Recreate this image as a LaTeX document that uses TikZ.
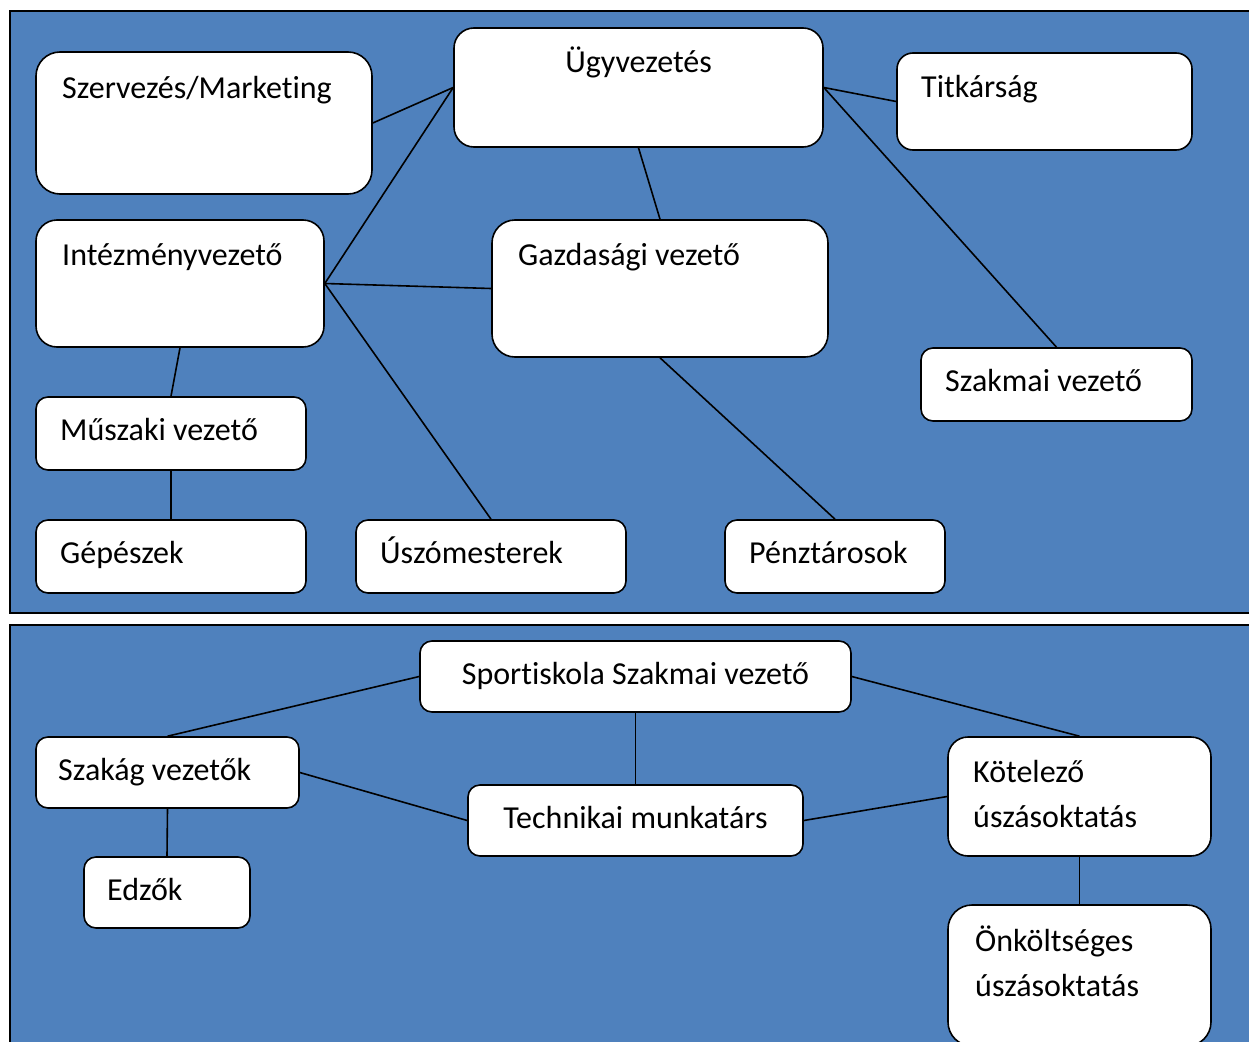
\documentclass[tikz,border=0pt]{standalone}
\usepackage{fontspec}
\setmainfont{Carlito}[Ligatures={NoCommon,NoContextual},RawFeature={-liga;-clig;-calt;-dlig}]
\definecolor{panelblue}{HTML}{4F81BD}
\tikzset{
  panel/.style={fill=panelblue,draw=black,line width=2.5pt},
  box/.style={draw=black,fill=white,line width=1.6pt,inner sep=0pt,rectangle},
  lbl/.style={inner sep=0pt,anchor=base west,font=\fontsize{32}{40}\selectfont,text=black},
  clbl/.style={inner sep=0pt,anchor=base,font=\fontsize{32}{40}\selectfont,text=black},
  conn/.style={draw=black,line width=1.6pt}
}
% \bx{name}{x1}{y1}{x2}{y2}{radius}
\newcommand\bx[6]{\node[box,rounded corners=#6pt,minimum width={(#4-#2)*1pt},minimum height={(#5-#3)*1pt}] (#1) at ({(#2+#4)/2},{(#3+#5)/2}) {};}
\begin{document}
\begin{tikzpicture}[x=1pt,y=-1pt]
\useasboundingbox (0,0) rectangle (1249,1041);
\clip (0,0) rectangle (1249,1041);
\path[panel] (10,11) rectangle (1262,613);
\path[panel] (10,625) rectangle (1262,1070);
% top boxes
\bx{szerv}{36}{52}{372}{194}{24}
\bx{ugy}{454}{28}{823}{147}{20}
\bx{titk}{897}{53}{1192}{150}{16}
\bx{intez}{36}{220}{324}{347}{21}
\bx{gazd}{492}{220}{828}{357}{23}
\bx{szakm}{921}{348}{1192}{421}{12}
\bx{musz}{36}{397}{306}{470}{12}
\bx{gep}{36}{520}{306}{593}{12}
\bx{uszo}{356}{520}{626}{593}{12}
\bx{penz}{725}{520}{945}{593}{12}
% bottom boxes
\bx{sport}{420}{641}{851}{712}{12}
\bx{szakag}{36}{737}{299}{808}{12}
\bx{tech}{468}{785}{803}{856}{12}
\bx{kotel}{948}{737}{1211}{856}{20}
\bx{edzo}{84}{857}{250}{928}{12}
\bx{onk}{948}{905}{1211}{1046}{24}
% labels
\node[lbl] (t-szerv) at (62,98) {Szervezés/Market\kern0pt ing};
\node[clbl] (t-ugy) at (638.5,73) {Ügyvezetés};
\node[lbl] (t-titk) at (921,97) {Titkárság};
\node[lbl] (t-intez) at (62,265) {Intézményvezető};
\node[lbl] (t-gazd) at (518,265) {Gazdasági vezető};
\node[lbl] (t-szakm) at (945,391) {Szakmai vezető};
\node[lbl] (t-musz) at (60,440) {Műszaki vezető};
\node[lbl] (t-gep) at (60,563) {Gépészek};
\node[lbl] (t-uszo) at (380,563) {Úszómesterek};
\node[lbl] (t-penz) at (749,563) {Pénztárosok};
\node[clbl] (t-sport) at (635.5,684) {Sport\kern0pt iskola Szakmai vezető};
\node[lbl] (t-szakag) at (58,780) {Szakág vezetők};
\node[clbl] (t-tech) at (635.5,828) {Technikai munkatárs};
\node[lbl] (t-kotel1) at (973,782) {Kötelező};
\node[lbl] (t-kotel2) at (973,827) {úszásoktatás};
\node[lbl] (t-edzo) at (107,900) {Edzők};
\node[lbl] (t-onk1) at (975,951) {Önköltséges};
\node[lbl] (t-onk2) at (975,996) {úszásoktatás};
% connectors
\draw[conn] (szerv.east) -- (ugy.west);
\draw[conn] (ugy.west) -- (intez.east);
\draw[conn] (ugy.east) -- (titk.west);
\draw[conn] (ugy.east) -- (szakm.north);
\draw[conn] (ugy.south) -- (gazd.north);
\draw[conn] (intez.east) -- (gazd.west);
\draw[conn] (intez.east) -- (uszo.north);
\draw[conn] (intez.south) -- (musz.north);
\draw[conn] (musz.south) -- (gep.north);
\draw[conn] (gazd.south) -- (penz.north);
\draw[conn] (sport.west) -- (szakag.north);
\draw[conn] (sport.east) -- (kotel.north);
\draw[conn] (sport.south) -- (tech.north);
\draw[conn] (szakag.east) -- (tech.west);
\draw[conn] (tech.east) -- (kotel.west);
\draw[conn] (szakag.south) -- (edzo.north);
\draw[conn] (kotel.south) -- (onk.north);
\end{tikzpicture}
\end{document}
